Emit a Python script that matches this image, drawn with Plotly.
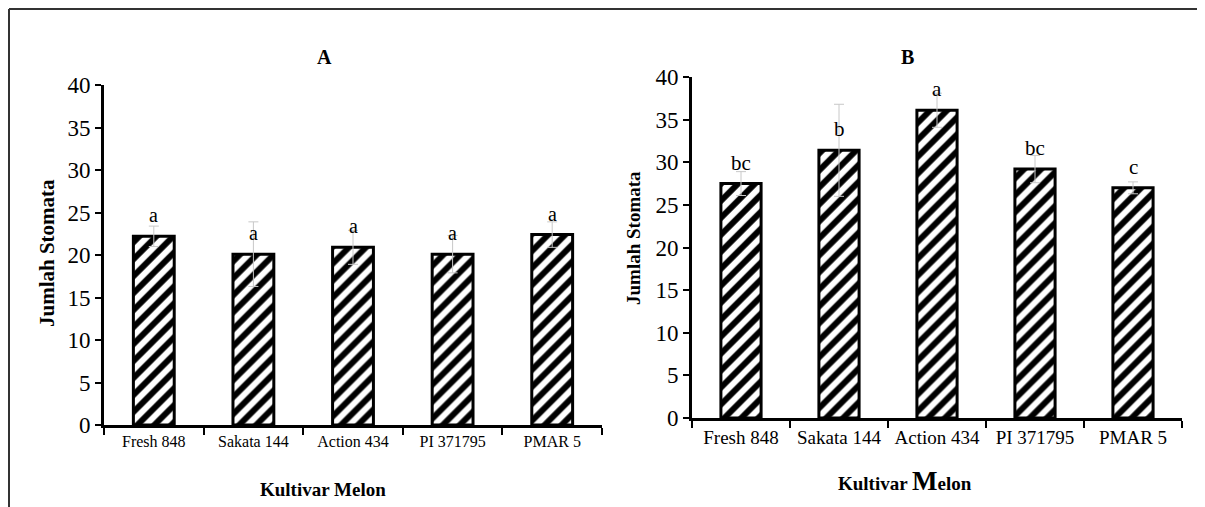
import plotly.graph_objects as go

cultivars = ["Fresh 848", "Sakata 144", "Action 434", "PI 371795", "PMAR 5"]
values_a = [22.2, 20.1, 20.9, 20.1, 22.4]
errors_a = [1.2, 3.8, 2.0, 2.2, 1.5]
letters_a = ["a", "a", "a", "a", "a"]
values_b = [27.5, 31.4, 36.1, 29.2, 27.0]
errors_b = [1.4, 5.4, 2.0, 1.6, 0.7]
letters_b = ["bc", "b", "a", "bc", "c"]
y_ticks = [0, 5, 10, 15, 20, 25, 30, 35, 40]

SERIF = "Liberation Serif, Times New Roman, serif"
OFF = 8  # page body margin of the browser
W, H = 1205 - OFF, 507 - OFF

def px_x(p):
    return (p - OFF) / W

def px_y(p):
    return 1 - (p - OFF) / H

fig = go.Figure()
xs = list(range(len(cultivars)))

bar_style = dict(
    color="white",
    line=dict(color="black", width=3),
    pattern=dict(shape="/", fgcolor="black", bgcolor="white", size=12, solidity=0.5, fgopacity=1),
)

fig.add_trace(go.Bar(x=xs, y=values_a, width=0.41, marker=bar_style,
                     error_y=dict(type="data", array=errors_a, color="#c8c8c8", thickness=1, width=5),
                     xaxis="x", yaxis="y", showlegend=False))
fig.add_trace(go.Bar(x=xs, y=values_b, width=0.41, marker=bar_style,
                     error_y=dict(type="data", array=errors_b, color="#c8c8c8", thickness=1, width=5),
                     xaxis="x2", yaxis="y2", showlegend=False))

# significance letters
for i, (v, t) in enumerate(zip(values_a, letters_a)):
    fig.add_annotation(x=xs[i], y=v, xref="x", yref="y", text=t, showarrow=False,
                       yanchor="middle", yshift=21, font=dict(family=SERIF, size=20, color="black"))
for i, (v, t) in enumerate(zip(values_b, letters_b)):
    fig.add_annotation(x=xs[i], y=v, xref="x2", yref="y2", text=t, showarrow=False,
                       yanchor="middle", yshift=21, font=dict(family=SERIF, size=21, color="black"))

common_y = dict(range=[0, 40], tickvals=y_ticks, ticks="outside", ticklen=6, tickwidth=2,
                tickcolor="black", showline=True, linecolor="black", linewidth=3,
                showgrid=False, zeroline=False, automargin=False,
                tickfont=dict(family=SERIF, size=23, color="black"))

def x_axis(domain, anchor, fsize):
    return dict(domain=domain, anchor=anchor, range=[-0.5, 4.5], tickvals=xs, ticktext=cultivars,
                ticks="", showline=True, linecolor="black", linewidth=3, showgrid=False,
                zeroline=False, automargin=False, ticklabelstandoff=0,
                tickfont=dict(family=SERIF, size=fsize, color="black"),
                minor=dict(tickmode="linear", tick0=-0.5, dtick=1, ticks="outside",
                           ticklen=7, tickwidth=2, tickcolor="black", showgrid=False))

fig.update_layout(
    template="none",
    width=W, height=H,
    margin=dict(l=0, r=0, t=0, b=0, pad=0, autoexpand=False),
    paper_bgcolor="white", plot_bgcolor="white",
    xaxis=x_axis([px_x(104), px_x(602)], "y", 16),
    yaxis=dict(domain=[px_y(425), px_y(85)], anchor="x", **common_y),
    xaxis2=x_axis([px_x(692), px_x(1182)], "y2", 19),
    yaxis2=dict(domain=[px_y(418), px_y(77)], anchor="x2", **common_y),
)

# panel titles and axis titles
texts = [
    ("<b>A</b>", 324, 57, 0, 20),
    ("<b>B</b>", 907, 57, 0, 20),
    ("<b>Jumlah Stomata</b>", 47, 253, -90, 21),
    ("<b>Jumlah Stomata</b>", 633, 238, -90, 19),
    ("<b>Kultivar Melon</b>", 323, 489, 0, 19),
    ("<b>Kultivar <span style='font-size:27px'>M</span>elon</b>", 905, 481, 0, 19),
]
for t, x, y, ang, fs in texts:
    fig.add_annotation(x=px_x(x), y=px_y(y), xref="paper", yref="paper", text=t, showarrow=False,
                       textangle=ang, xanchor="center", yanchor="middle",
                       font=dict(family=SERIF, size=fs, color="black"))

# outer frame (top and left edges)
fig.add_shape(type="line", xref="paper", yref="paper", x0=px_x(9), y0=px_y(9), x1=1, y1=px_y(9),
              line=dict(color="#333333", width=2))
fig.add_shape(type="line", xref="paper", yref="paper", x0=px_x(9), y0=px_y(9), x1=px_x(9), y1=0,
              line=dict(color="#333333", width=2))

fig.write_html("out.html")
